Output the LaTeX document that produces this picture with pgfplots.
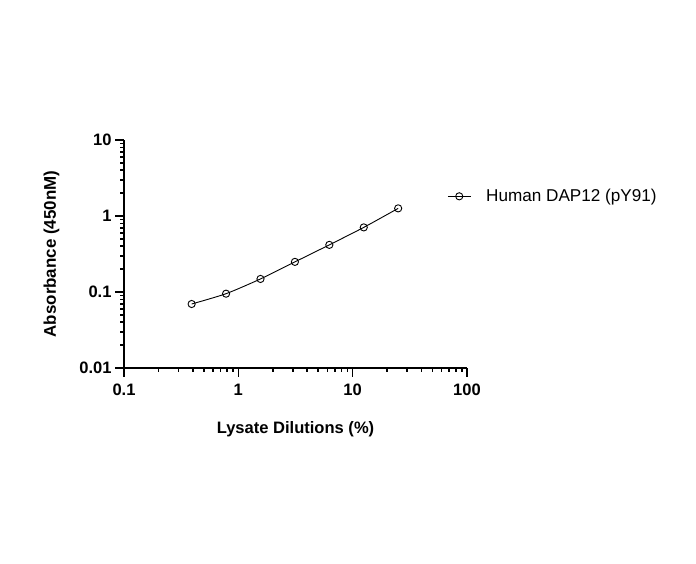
\documentclass[border=0pt]{standalone}
\usepackage{pgfplots}
\pgfplotsset{compat=1.18}
\usepackage{fontspec}
\setmainfont{Liberation Sans}

\begin{document}
\begin{tikzpicture}[x=1bp,y=1bp]
\useasboundingbox (0,0) rectangle (696,564);
\begin{axis}[
    at={(124bp,196bp)}, anchor=south west,
    scale only axis,
    width=343bp, height=228bp,
    xmode=log, ymode=log,
    xmin=0.1, xmax=100, ymin=0.01, ymax=10,
    axis lines=left,
    axis line style={-, line width=1.8bp},
    tick style={black, line width=1.6bp},
    tick align=outside,
    major tick length=9bp,
    minor tick length=4bp,
    xtick={0.1,1,10,100},
    xticklabels={0.1,1,10,100},
    ytick={0.01,0.1,1,10},
    yticklabels={0.01,0.1,1,10},
    tick label style={font=\fontsize{16.6}{17}\selectfont\bfseries},
    xticklabel style={yshift=-3.5bp},
    xlabel={Lysate Dilutions (\%)},
    ylabel={Absorbance (450nM)},
    xlabel style={font=\fontsize{16.6}{17}\selectfont\bfseries,
        at={(axis description cs:0.5,0)}, anchor=north, yshift=-50bp},
    ylabel style={font=\fontsize{17}{18}\selectfont\bfseries,
        at={(axis description cs:0,0.5)}, anchor=south, yshift=61bp},
    legend style={draw=none, fill=none, at={(axis description cs:0.942,0.753)},
        anchor=west, inner sep=0pt, font=\fontsize{17.2}{18}\selectfont,
        legend cell align=left},
    legend image code/.code={
        \draw[mark repeat=2, mark phase=2, #1] plot coordinates {(0bp,0bp) (11.5bp,0bp) (23bp,0bp)};
        \path (36bp,0bp);
    },
]
\addplot[black, line width=0.9bp, smooth, tension=0.4, mark=o,
    mark options={solid, line width=0.9bp}, mark size=3.6bp]
    coordinates {
    (0.390625,0.0695) (0.78125,0.095) (1.5625,0.1485) (3.125,0.249)
    (6.25,0.417) (12.5,0.708) (25,1.26)
    };
\addlegendentry{Human DAP12 (pY91)}
\end{axis}
\end{tikzpicture}
\end{document}
